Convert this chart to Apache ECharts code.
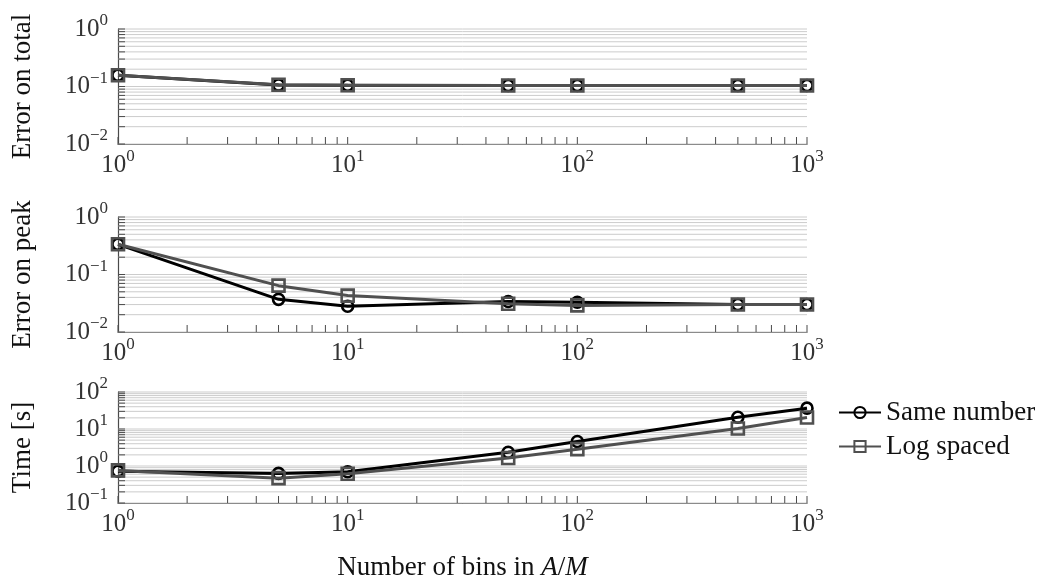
<!DOCTYPE html>
<html>
<head>
<meta charset="utf-8">
<script src="https://cdn.jsdelivr.net/npm/echarts@6/dist/echarts.min.js"></script>
<style>
  html, body { margin: 0; padding: 0; background: #fff; }
  #chart { width: 1053px; height: 582px; }
</style>
</head>
<body>
<div id="chart"></div>
<script>
// Number of bins along the x axis
const binCounts = [1, 5, 10, 50, 100, 500, 1000];

// Error on total
const totalSame = [0.157, 0.106, 0.105, 0.104, 0.104, 0.104, 0.104];
const totalLog  = [0.157, 0.107, 0.105, 0.104, 0.104, 0.104, 0.104];

// Error on peak
const peakSame = [0.335, 0.037, 0.028, 0.034, 0.033, 0.030, 0.030];
const peakLog  = [0.335, 0.064, 0.043, 0.031, 0.029, 0.030, 0.030];

// Time [s]
const timeSame = [0.72, 0.63, 0.70, 2.35, 4.6, 20.8, 36.6];
const timeLog  = [0.76, 0.47, 0.62, 1.65, 2.85, 10.3, 20.5];

// Axis ranges (powers of ten)
const xRange = [1, 1000];
const totalRange = [0.01, 1];
const peakRange = [0.01, 1];
const timeRange = [0.1, 100];

const seriesNames = ['Same number', 'Log spaced'];
const panelNames = ['Error on total', 'Error on peak', 'Time [s]'];

const FONT = '"Liberation Serif", "Times New Roman", serif';
const BASE = 25;
const SUP = 17;
const NAME = 27;
const AXIS_COLOR = '#4a4a4a';
const GRID_COLOR = '#cccccc';

function powLabel(v) {
  const e = Math.round(Math.log10(v));
  const s = e < 0 ? '\u2212' + (-e) : String(e);
  return '{b|10}{s|' + s + '}';
}
const labelRich = {
  b: { fontSize: BASE, fontFamily: FONT, color: '#333', lineHeight: 30 },
  s: { fontSize: SUP, fontFamily: FONT, color: '#333', lineHeight: 30, padding: [0, 0, 16, 0] }
};

// 1..9 multiples within each decade of a log range
function logSteps(lo, hi) {
  const out = [];
  const d0 = Math.round(Math.log10(lo));
  const d1 = Math.round(Math.log10(hi));
  for (let d = d0; d < d1; d++) {
    for (let m = 1; m <= 9; m++) out.push(+(m * Math.pow(10, d)).toPrecision(6));
  }
  out.push(hi);
  return out;
}

// Gridlines and tick marks for one panel, placed through the panel's axes
function frameSeries(idx, yr) {
  const items = [];
  logSteps(yr[0], yr[1]).forEach(v => items.push([xRange[0], v, 0]));
  logSteps(xRange[0], xRange[1]).forEach(v => items.push([v, yr[0], 1]));
  return {
    type: 'custom',
    xAxisIndex: idx, yAxisIndex: idx,
    silent: true, clip: false, z: 1,
    encode: { x: 0, y: 1 },
    data: items,
    renderItem: function (params, api) {
      const kind = api.value(2);
      if (kind === 0) {
        const v = api.value(1);
        const a = api.coord([xRange[0], v]);
        const b = api.coord([xRange[1], v]);
        return {
          type: 'group',
          children: [
            { type: 'line', shape: { x1: a[0], y1: a[1], x2: b[0], y2: b[1] },
              style: { stroke: GRID_COLOR, lineWidth: 1 } },
            { type: 'line', shape: { x1: a[0], y1: a[1], x2: a[0] + 7, y2: a[1] },
              style: { stroke: AXIS_COLOR, lineWidth: 1 } }
          ]
        };
      }
      const p = api.coord([api.value(0), yr[0]]);
      return { type: 'line', shape: { x1: p[0], y1: p[1], x2: p[0], y2: p[1] - 7 },
               style: { stroke: AXIS_COLOR, lineWidth: 1 } };
    }
  };
}

function lineSeries(idx, name, values) {
  const same = name === seriesNames[0];
  const color = same ? '#000000' : '#505050';
  return {
    type: 'line',
    name: name,
    xAxisIndex: idx, yAxisIndex: idx,
    data: binCounts.map((x, i) => [x, values[i]]),
    symbol: same ? 'circle' : 'rect',
    symbolSize: same ? 11 : 12,
    showSymbol: true,
    z: same ? 3 : 4,
    lineStyle: { color: color, width: 3 },
    itemStyle: { color: 'rgba(255,255,255,0)', borderColor: color, borderWidth: 2.6 },
    emphasis: { disabled: true }
  };
}

const gridBoxes = [
  { left: 118, top: 29, width: 689, height: 115 },
  { left: 118, top: 217, width: 689, height: 115 },
  { left: 118, top: 392, width: 689, height: 114 }
];
const yRanges = [totalRange, peakRange, timeRange];
const panels = [[totalSame, totalLog], [peakSame, peakLog], [timeSame, timeLog]];

const xAxes = gridBoxes.map((g, i) => ({
  type: 'log', logBase: 10, gridIndex: i,
  min: xRange[0], max: xRange[1],
  axisLine: { show: true, lineStyle: { color: AXIS_COLOR, width: 1.2 } },
  axisTick: { show: false },
  splitLine: { show: false },
  axisLabel: { formatter: powLabel, rich: labelRich, margin: 6 },
  name: i === 2 ? 'Number of bins in {i|A}/{i|M}' : '',
  nameLocation: 'middle',
  nameGap: 51,
  nameTextStyle: {
    fontSize: NAME, fontFamily: FONT, color: '#111',
    rich: { i: { fontSize: NAME, fontFamily: FONT, fontStyle: 'italic', color: '#111' } }
  }
}));

const yAxes = gridBoxes.map((g, i) => ({
  type: 'log', logBase: 10, gridIndex: i,
  min: yRanges[i][0], max: yRanges[i][1],
  axisLine: { show: true, lineStyle: { color: AXIS_COLOR, width: 1.2 } },
  axisTick: { show: false },
  splitLine: { show: false },
  axisLabel: { formatter: powLabel, rich: labelRich, margin: 10 },
  name: panelNames[i],
  nameLocation: 'middle',
  nameGap: 82,
  nameTextStyle: { fontSize: NAME, fontFamily: FONT, color: '#111' }
}));

const series = [];
panels.forEach((vals, i) => {
  series.push(frameSeries(i, yRanges[i]));
  series.push(lineSeries(i, seriesNames[0], vals[0]));
  series.push(lineSeries(i, seriesNames[1], vals[1]));
});

const chart = echarts.init(document.getElementById('chart'), null, { renderer: 'canvas' });
chart.setOption({
  animation: false,
  backgroundColor: '#fff',
  grid: gridBoxes,
  xAxis: xAxes,
  yAxis: yAxes,
  legend: {
    data: seriesNames,
    orient: 'vertical',
    left: 838, top: 397,
    padding: 0,
    itemWidth: 42, itemHeight: 14, itemGap: 3,
    textStyle: { fontSize: NAME, fontFamily: FONT, color: '#111', lineHeight: 31 },
    selectedMode: false
  },
  series: series
});
</script>
</body>
</html>
